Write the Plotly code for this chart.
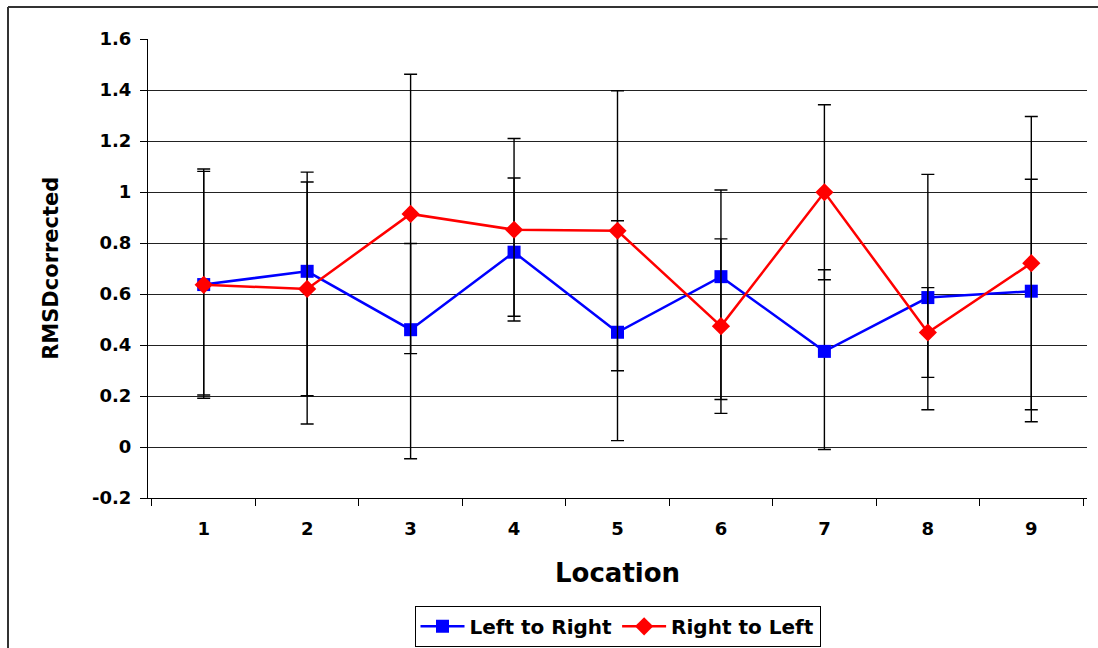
import plotly.graph_objects as go

locations = ["1", "2", "3", "4", "5", "6", "7", "8", "9"]

ltr_values = [0.637, 0.689, 0.460, 0.764, 0.450, 0.668, 0.375, 0.586, 0.611]
ltr_err_plus = [0.453, 0.389, 0.338, 0.291, 0.437, 0.340, 0.320, 0.483, 0.439]
ltr_err_minus = [0.433, 0.599, 0.506, 0.251, 0.425, 0.482, 0.385, 0.440, 0.512]

rtl_values = [0.636, 0.620, 0.914, 0.852, 0.848, 0.474, 0.999, 0.449, 0.721]
rtl_err = [0.445, 0.419, 0.548, 0.358, 0.549, 0.342, 0.343, 0.176, 0.575]

y_ticks = [-0.2, 0, 0.2, 0.4, 0.6, 0.8, 1, 1.2, 1.4, 1.6]
y_tick_text = ["-0.2", "0", "0.2", "0.4", "0.6", "0.8", "1", "1.2", "1.4", "1.6"]

FONT = "DejaVu Sans"

fig = go.Figure()
fig.add_trace(go.Scatter(
    x=locations, y=ltr_values, name="Left to Right", mode="lines+markers",
    line=dict(color="#0000FF", width=2.5),
    marker=dict(symbol="square", size=13, color="#0000FF"),
    error_y=dict(type="data", symmetric=False, array=ltr_err_plus, arrayminus=ltr_err_minus,
                 color="#000000", thickness=1.4, width=6.5),
))
fig.add_trace(go.Scatter(
    x=locations, y=rtl_values, name="Right to Left", mode="lines+markers",
    line=dict(color="#FF0000", width=2.5),
    marker=dict(symbol="diamond", size=14, color="#FF0000"),
    error_y=dict(type="data", array=rtl_err, color="#000000", thickness=1.4, width=6.5),
))

fig.update_layout(
    width=1098, height=648,
    margin=dict(l=148, r=11, t=39, b=150, autoexpand=False),
    paper_bgcolor="white", plot_bgcolor="white",
    font=dict(family=FONT, color="black"),
    showlegend=True,
    legend=dict(orientation="h", x=0.5, xanchor="center", y=-0.235, yanchor="top",
                bordercolor="#000000", borderwidth=1,
                font=dict(family=FONT, size=20, weight="bold", color="black"),
                itemwidth=44),
    xaxis=dict(type="category", tickson="boundaries", ticks="outside", ticklen=7,
               tickcolor="black", showline=True, linecolor="black", linewidth=1,
               showgrid=False, ticklabelstandoff=14, automargin=False,
               tickfont=dict(family=FONT, size=18, weight="bold", color="black")),
    yaxis=dict(range=[-0.2, 1.6], tickvals=y_ticks, ticktext=y_tick_text,
               ticks="outside", ticklen=7, tickcolor="black",
               showline=True, linecolor="black", linewidth=1,
               showgrid=True, gridcolor="#222222", gridwidth=1, zeroline=False,
               ticklabelstandoff=5, automargin=False,
               tickfont=dict(family=FONT, size=18, weight="bold", color="black")),
    annotations=[
        dict(text="Location", xref="paper", yref="paper", x=0.5, y=-0.163,
             xanchor="center", yanchor="middle", showarrow=False,
             font=dict(family=FONT, size=26, weight="bold", color="black")),
        dict(text="RMSDcorrected", xref="paper", yref="paper", x=-0.104, y=0.5,
             xanchor="center", yanchor="middle", showarrow=False, textangle=-90,
             font=dict(family=FONT, size=21, weight="bold", color="black")),
    ],
    shapes=[
        dict(type="line", xref="paper", yref="paper",
             x0=(8 - 148) / 939, x1=(1110 - 148) / 939,
             y0=(498 - 7) / 459, y1=(498 - 7) / 459,
             line=dict(color="#333333", width=2)),
        dict(type="line", xref="paper", yref="paper",
             x0=(8 - 148) / 939, x1=(8 - 148) / 939,
             y0=(498 - 7) / 459, y1=(498 - 660) / 459,
             line=dict(color="#333333", width=2)),
    ],
)

fig.write_html(
    "out.html",
    config={"displayModeBar": False},
    post_script="document.body.style.margin='0';document.body.style.overflow='hidden';",
)
